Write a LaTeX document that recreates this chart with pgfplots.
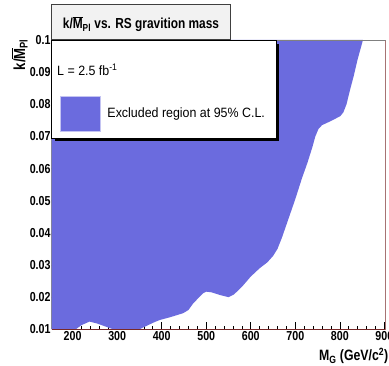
\documentclass[border=0pt]{standalone}
\usepackage{fontspec}
\setmainfont{Liberation Sans}[FakeStretch=0.92]
\newfontfamily\cond{Liberation Sans}[FakeStretch=0.82]
\usepackage{pgfplots}
\pgfplotsset{compat=1.18}
\definecolor{excl}{RGB}{107,107,222}
\definecolor{frred}{RGB}{120,40,40}
\definecolor{titlegray}{RGB}{242,242,242}
\begin{document}
\begin{tikzpicture}
\useasboundingbox (-51.7pt,-36.7pt) rectangle (337.3pt,329.3pt);
\begin{axis}[
  at={(0pt,0pt)}, anchor=south west,
  scale only axis, width=334pt, height=289.3pt,
  xmin=153, xmax=903, ymin=0.01, ymax=0.1,
  xtick={200,300,400,500,600,700,800,900},
  xticklabels={200,300,400,500,600,700,800,900},
  minor x tick num=4,
  ytick={0.01,0.02,0.03,0.04,0.05,0.06,0.07,0.08,0.09,0.1},
  yticklabels={0.01,0.02,0.03,0.04,0.05,0.06,0.07,0.08,0.09,0.1},
  tick pos=left, tick align=inside,
  major tick length=7pt, minor tick length=3.5pt,
  tick style={black, line width=0.6pt},
  axis line style={draw=none},
  ticklabel style={font=\cond\bfseries\fontsize{13}{14}\selectfont},
  xticklabel style={inner sep=1pt, yshift=-1pt},
  yticklabel style={inner sep=1pt},
  /pgf/number format/assume math mode=true,
]
\addplot[fill=excl, draw=none] coordinates {
(153,0.1) (153,0.01) (207,0.01) (220,0.0113) (238,0.0124) (255,0.0118)
(275,0.0108) (291,0.0100) (350,0.01) (368,0.0112) (385,0.0123) (396,0.0129)
(420,0.0138) (448,0.0150) (460,0.0160) (471,0.0181) (483,0.0198) (493,0.0212)
(500,0.0217) (512,0.0215) (530,0.0207) (550,0.0200) (562,0.0208) (580,0.0232)
(600,0.0264) (620,0.0290) (637,0.0308) (650,0.0328) (660,0.0350) (670,0.0385)
(680,0.0425) (690,0.0465) (700,0.0505) (715,0.0570) (727,0.0617) (738,0.0665)
(745,0.0700) (752,0.0723) (760,0.0735) (780,0.0748) (801,0.0763) (808,0.0775)
(815,0.0800) (823,0.0845) (831,0.0887) (840,0.0940) (847,0.0975) (852,0.1)
} -- cycle;
\draw[frred, line width=0.8pt] (rel axis cs:0,0) -- (rel axis cs:1,0) -- (rel axis cs:1,1);
\draw[gray, line width=0.8pt] (rel axis cs:0,1) -- (rel axis cs:1,1);
\draw[black, line width=0.8pt] (rel axis cs:0,0) -- (rel axis cs:0,1);
\end{axis}
% title box
\draw[fill=titlegray, draw=black!75, line width=0.6pt] (0pt,290.3pt) rectangle (178.3pt,325.3pt);
\node[font=\cond\bfseries\fontsize{14.5}{15}\selectfont] at (89.3pt,305pt)
  {k/$\overline{\mbox{\cond\bfseries M}}$\textsubscript{Pl} vs. RS gravition mass};
% legend
\fill[black] (3pt,187.8pt) rectangle (227.6pt,285pt);
\draw[fill=white, draw=black, line width=0.6pt] (0pt,191.3pt) rectangle (224.8pt,288.6pt);
\draw[fill=excl, draw=excl!40] (8.3pt,197.6pt) rectangle (48.3pt,232.6pt);
\node[anchor=west, inner sep=0pt, font=\fontsize{13.5}{14}\selectfont] at (5.3pt,259.3pt) {L = 2.5 fb\textsuperscript{-1}};
\node[anchor=west, inner sep=0pt, font=\fontsize{13.5}{14}\selectfont] at (55.6pt,215pt) {Excluded region at 95\% C.L.};
% axis labels
\node[rotate=90, anchor=base east, inner sep=0pt, font=\cond\bfseries\fontsize{16}{17}\selectfont] at (-26.7pt,290.3pt)
  {k/$\overline{\mbox{\cond\bfseries M}}$\textsubscript{Pl}};
\node[anchor=base east, inner sep=0pt, font=\cond\bfseries\fontsize{15}{16}\selectfont] at (336.8pt,-31.7pt)
  {M\textsubscript{G} (GeV/c\textsuperscript{2})};
\end{tikzpicture}
\end{document}
